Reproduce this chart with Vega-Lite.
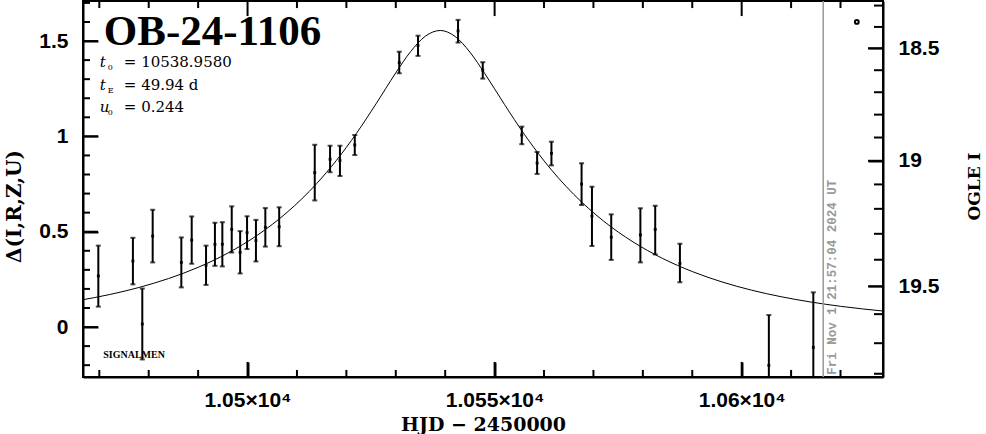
{
  "$schema": "https://vega.github.io/schema/vega-lite/v6.json",
  "width": 800,
  "height": 376,
  "autosize": {"type": "none"},
  "padding": {"left": 83, "top": 1, "right": 103, "bottom": 57},
  "background": "white",
  "config": {
    "view": {"stroke": "black", "strokeWidth": 2},
    "axis": {"gridOpacity": 0, "domainColor": "black", "domainWidth": 2}
  },
  "datasets": {
    "xt": [
      {"v": 10470, "kind": "minor"}, {"v": 10480, "kind": "minor"}, {"v": 10490, "kind": "minor"}, {"v": 10500, "kind": "major"},
      {"v": 10510, "kind": "minor"}, {"v": 10520, "kind": "minor"}, {"v": 10530, "kind": "minor"}, {"v": 10540, "kind": "minor"},
      {"v": 10550, "kind": "major"}, {"v": 10560, "kind": "minor"}, {"v": 10570, "kind": "minor"}, {"v": 10580, "kind": "minor"},
      {"v": 10590, "kind": "minor"}, {"v": 10600, "kind": "major"}, {"v": 10610, "kind": "minor"}, {"v": 10620, "kind": "minor"}
    ],
    "yt": [
      {"v": -0.2, "kind": "minor"}, {"v": -0.1, "kind": "minor"}, {"v": 0, "kind": "major"}, {"v": 0.1, "kind": "minor"},
      {"v": 0.2, "kind": "minor"}, {"v": 0.3, "kind": "minor"}, {"v": 0.4, "kind": "minor"}, {"v": 0.5, "kind": "major"},
      {"v": 0.6, "kind": "minor"}, {"v": 0.7, "kind": "minor"}, {"v": 0.8, "kind": "minor"}, {"v": 0.9, "kind": "minor"},
      {"v": 1.0, "kind": "major"}, {"v": 1.1, "kind": "minor"}, {"v": 1.2, "kind": "minor"}, {"v": 1.3, "kind": "minor"},
      {"v": 1.4, "kind": "minor"}, {"v": 1.5, "kind": "major"}, {"v": 1.6, "kind": "minor"}, {"v": 1.7, "kind": "minor"}
    ],
    "ot": [
      {"v": 1.686, "kind": "minor"}, {"v": 1.574, "kind": "minor"}, {"v": 1.462, "kind": "major"}, {"v": 1.347, "kind": "minor"},
      {"v": 1.2315, "kind": "minor"}, {"v": 1.114, "kind": "minor"}, {"v": 0.994, "kind": "minor"}, {"v": 0.872, "kind": "major"},
      {"v": 0.748, "kind": "minor"}, {"v": 0.620, "kind": "minor"}, {"v": 0.489, "kind": "minor"}, {"v": 0.353, "kind": "minor"},
      {"v": 0.2135, "kind": "major"}, {"v": 0.0677, "kind": "minor"}, {"v": -0.0848, "kind": "minor"}, {"v": -0.245, "kind": "minor"}
    ]
  },
  "resolve": {"axis": {"x": "independent", "y": "independent"}},
  "layer": [
    {
      "data": {"values": [
        {"t": 10466, "d": 0.1401}, {"t": 10472, "d": 0.1700}, {"t": 10478, "d": 0.2074}, {"t": 10484, "d": 0.2542},
        {"t": 10490, "d": 0.3132}, {"t": 10496, "d": 0.3877}, {"t": 10502, "d": 0.4820}, {"t": 10508, "d": 0.6015},
        {"t": 10514, "d": 0.7527}, {"t": 10518, "d": 0.8745}, {"t": 10522, "d": 1.0145}, {"t": 10526, "d": 1.1706},
        {"t": 10530, "d": 1.3333}, {"t": 10533, "d": 1.4446}, {"t": 10536, "d": 1.5257}, {"t": 10539, "d": 1.5554},
        {"t": 10542, "d": 1.5240}, {"t": 10545, "d": 1.4418}, {"t": 10548, "d": 1.3300}, {"t": 10552, "d": 1.1673},
        {"t": 10556, "d": 1.0113}, {"t": 10560, "d": 0.8718}, {"t": 10566, "d": 0.6962}, {"t": 10572, "d": 0.5568},
        {"t": 10578, "d": 0.4467}, {"t": 10584, "d": 0.3598}, {"t": 10590, "d": 0.2911}, {"t": 10596, "d": 0.2367},
        {"t": 10602, "d": 0.1934}, {"t": 10608, "d": 0.1589}, {"t": 10614, "d": 0.1312}, {"t": 10620, "d": 0.1088},
        {"t": 10629, "d": 0.0830}
      ]},
      "mark": {"type": "line", "color": "black", "strokeWidth": 1, "interpolate": "monotone", "clip": true},
      "encoding": {
        "x": {"field": "t", "type": "quantitative",
              "scale": {"domain": [10466.7, 10628.6], "nice": false, "zero": false},
              "axis": {"orient": "bottom", "values": [10500, 10550, 10600],
                       "tickSize": -15, "tickColor": "black", "tickWidth": 2, "labelPadding": 27,
                       "labelFont": "Liberation Sans", "labelFontWeight": "bold", "labelFontSize": 21, "labelColor": "black", "labelFlush": false,
                       "labelExpr": "datum.value == 10500 ? '1.05×10⁴' : datum.value == 10550 ? '1.055×10⁴' : '1.06×10⁴'",
                       "title": "HJD − 2450000", "titleFont": "DejaVu Serif", "titleFontWeight": "bold", "titleFontSize": 19, "titleColor": "black",
                       "titleX": 400, "titleY": 47, "titleBaseline": "middle", "titleAlign": "center"}},
        "y": {"field": "d", "type": "quantitative",
              "scale": {"domain": [-0.262, 1.71], "nice": false, "zero": false},
              "axis": {"orient": "left", "values": [0, 0.5, 1, 1.5],
                       "tickSize": -15, "tickColor": "black", "tickWidth": 2, "labelPadding": 30, "format": "~g",
                       "labelFont": "Liberation Sans", "labelFontWeight": "bold", "labelFontSize": 21, "labelColor": "black", "labelFlush": false,
                       "title": "Δ(I,R,Z,U)", "titleFont": "DejaVu Serif", "titleFontWeight": "bold", "titleFontSize": 20, "titleColor": "black",
                       "titleAngle": 270, "titleX": -69, "titleY": 205, "titleBaseline": "middle", "titleAlign": "center"}}
      }
    },
    {
      "data": {"name": "pts", "values": [
        {"t": 10469.8, "d": 0.268, "lo": 0.107, "hi": 0.427},
        {"t": 10476.8, "d": 0.346, "lo": 0.224, "hi": 0.468},
        {"t": 10478.7, "d": 0.016, "lo": -0.170, "hi": 0.202},
        {"t": 10480.8, "d": 0.477, "lo": 0.339, "hi": 0.615},
        {"t": 10486.6, "d": 0.339, "lo": 0.208, "hi": 0.470},
        {"t": 10488.7, "d": 0.456, "lo": 0.332, "hi": 0.580},
        {"t": 10491.6, "d": 0.324, "lo": 0.221, "hi": 0.427},
        {"t": 10493.4, "d": 0.434, "lo": 0.321, "hi": 0.547},
        {"t": 10494.9, "d": 0.434, "lo": 0.318, "hi": 0.550},
        {"t": 10496.8, "d": 0.512, "lo": 0.391, "hi": 0.633},
        {"t": 10498.5, "d": 0.392, "lo": 0.281, "hi": 0.503},
        {"t": 10499.9, "d": 0.495, "lo": 0.409, "hi": 0.581},
        {"t": 10501.7, "d": 0.453, "lo": 0.344, "hi": 0.562},
        {"t": 10503.6, "d": 0.523, "lo": 0.422, "hi": 0.624},
        {"t": 10506.4, "d": 0.526, "lo": 0.424, "hi": 0.628},
        {"t": 10513.6, "d": 0.810, "lo": 0.664, "hi": 0.956},
        {"t": 10516.7, "d": 0.880, "lo": 0.812, "hi": 0.951},
        {"t": 10518.7, "d": 0.873, "lo": 0.792, "hi": 0.951},
        {"t": 10521.7, "d": 0.955, "lo": 0.902, "hi": 1.007},
        {"t": 10530.7, "d": 1.387, "lo": 1.331, "hi": 1.444},
        {"t": 10534.5, "d": 1.476, "lo": 1.422, "hi": 1.528},
        {"t": 10542.6, "d": 1.553, "lo": 1.492, "hi": 1.611},
        {"t": 10547.6, "d": 1.347, "lo": 1.303, "hi": 1.389},
        {"t": 10555.5, "d": 1.007, "lo": 0.959, "hi": 1.051},
        {"t": 10558.6, "d": 0.860, "lo": 0.803, "hi": 0.918},
        {"t": 10561.5, "d": 0.911, "lo": 0.848, "hi": 0.972},
        {"t": 10567.6, "d": 0.750, "lo": 0.640, "hi": 0.859},
        {"t": 10569.7, "d": 0.582, "lo": 0.425, "hi": 0.736},
        {"t": 10573.6, "d": 0.471, "lo": 0.352, "hi": 0.591},
        {"t": 10579.5, "d": 0.483, "lo": 0.339, "hi": 0.623},
        {"t": 10582.5, "d": 0.512, "lo": 0.381, "hi": 0.636},
        {"t": 10587.5, "d": 0.334, "lo": 0.235, "hi": 0.437},
        {"t": 10605.5, "d": -0.201, "lo": -0.465, "hi": 0.063},
        {"t": 10614.5, "d": -0.107, "lo": -0.396, "hi": 0.182}
      ]},
      "mark": {"type": "rule", "color": "black", "strokeWidth": 2, "clip": true},
      "encoding": {
        "x": {"field": "t", "type": "quantitative", "axis": null},
        "y": {"field": "lo", "type": "quantitative", "axis": null},
        "y2": {"field": "hi"}
      }
    },
    {
      "data": {"name": "pts"},
      "mark": {"type": "tick", "orient": "horizontal", "color": "black", "size": 5, "thickness": 2, "clip": true},
      "encoding": {
        "x": {"field": "t", "type": "quantitative", "axis": null},
        "y": {"field": "lo", "type": "quantitative",
              "axis": {"orient": "right", "values": [1.462, 0.872, 0.2135],
                       "tickSize": -15, "tickColor": "black", "tickWidth": 2, "labelPadding": 30,
                       "labelFont": "Liberation Sans", "labelFontWeight": "bold", "labelFontSize": 21, "labelColor": "black", "labelFlush": false,
                       "labelExpr": "datum.value > 1.4 ? '18.5' : datum.value > 0.8 ? '19' : '19.5'",
                       "title": "OGLE I", "titleFont": "DejaVu Serif", "titleFontWeight": "bold", "titleFontSize": 17, "titleColor": "black",
                       "titleAngle": 270, "titleX": 91, "titleY": 185, "titleBaseline": "middle", "titleAlign": "center"}}
      }
    },
    {
      "data": {"name": "pts"},
      "mark": {"type": "tick", "orient": "horizontal", "color": "black", "size": 5, "thickness": 2, "clip": true},
      "encoding": {
        "x": {"field": "t", "type": "quantitative", "axis": null},
        "y": {"field": "hi", "type": "quantitative", "axis": null}
      }
    },
    {
      "data": {"name": "pts"},
      "mark": {"type": "point", "shape": "square", "filled": true, "color": "black", "size": 8, "opacity": 1, "clip": true},
      "encoding": {
        "x": {"field": "t", "type": "quantitative", "axis": null},
        "y": {"field": "d", "type": "quantitative", "axis": null}
      }
    },
    {
      "data": {"name": "xt"},
      "transform": [{"filter": "datum.kind == 'major'"}],
      "mark": {"type": "rule", "color": "black", "strokeWidth": 2},
      "encoding": {
        "x": {"field": "v", "type": "quantitative", "axis": null},
        "y": {"datum": -0.262, "type": "quantitative", "axis": null},
        "y2": {"datum": -0.183}
      }
    },
    {
      "data": {"name": "xt"},
      "transform": [{"filter": "datum.kind == 'minor'"}],
      "mark": {"type": "rule", "color": "black", "strokeWidth": 2},
      "encoding": {
        "x": {"field": "v", "type": "quantitative", "axis": null},
        "y": {"datum": -0.262, "type": "quantitative", "axis": null},
        "y2": {"datum": -0.225}
      }
    },
    {
      "data": {"name": "xt"},
      "transform": [{"filter": "datum.kind == 'major'"}],
      "mark": {"type": "rule", "color": "black", "strokeWidth": 2},
      "encoding": {
        "x": {"field": "v", "type": "quantitative", "axis": null},
        "y": {"datum": 1.71, "type": "quantitative", "axis": null},
        "y2": {"datum": 1.631}
      }
    },
    {
      "data": {"name": "xt"},
      "transform": [{"filter": "datum.kind == 'minor'"}],
      "mark": {"type": "rule", "color": "black", "strokeWidth": 2},
      "encoding": {
        "x": {"field": "v", "type": "quantitative", "axis": null},
        "y": {"datum": 1.71, "type": "quantitative", "axis": null},
        "y2": {"datum": 1.673}
      }
    },
    {
      "data": {"name": "yt"},
      "transform": [{"filter": "datum.kind == 'major'"}],
      "mark": {"type": "rule", "color": "black", "strokeWidth": 2},
      "encoding": {
        "y": {"field": "v", "type": "quantitative", "axis": null},
        "x": {"datum": 10466.7, "type": "quantitative", "axis": null},
        "x2": {"datum": 10469.74}
      }
    },
    {
      "data": {"name": "yt"},
      "transform": [{"filter": "datum.kind == 'minor'"}],
      "mark": {"type": "rule", "color": "black", "strokeWidth": 2},
      "encoding": {
        "y": {"field": "v", "type": "quantitative", "axis": null},
        "x": {"datum": 10466.7, "type": "quantitative", "axis": null},
        "x2": {"datum": 10468.12}
      }
    },
    {
      "data": {"name": "ot"},
      "transform": [{"filter": "datum.kind == 'major'"}],
      "mark": {"type": "rule", "color": "black", "strokeWidth": 2},
      "encoding": {
        "y": {"field": "v", "type": "quantitative", "axis": null},
        "x": {"datum": 10628.6, "type": "quantitative", "axis": null},
        "x2": {"datum": 10625.56}
      }
    },
    {
      "data": {"name": "ot"},
      "transform": [{"filter": "datum.kind == 'minor'"}],
      "mark": {"type": "rule", "color": "black", "strokeWidth": 2},
      "encoding": {
        "y": {"field": "v", "type": "quantitative", "axis": null},
        "x": {"datum": 10628.6, "type": "quantitative", "axis": null},
        "x2": {"datum": 10626.78}
      }
    },
    {
      "data": {"values": [{"t": 10616.5}]},
      "mark": {"type": "rule", "color": "#999999", "strokeWidth": 1.5},
      "encoding": {"x": {"field": "t", "type": "quantitative", "axis": null}}
    },
    {
      "data": {"values": [{"t": 10616.5, "d": -0.25, "label": "Fri Nov  1 21:57:04 2024 UT"}]},
      "mark": {"type": "text", "angle": 270, "align": "left", "baseline": "top", "dy": 3, "font": "Liberation Mono", "fontWeight": "bold", "fontSize": 12.5, "color": "#999999"},
      "encoding": {
        "x": {"field": "t", "type": "quantitative", "axis": null},
        "y": {"field": "d", "type": "quantitative", "axis": null},
        "text": {"field": "label"}
      }
    },
    {
      "data": {"values": [{"t": 10623.3, "d": 1.600}]},
      "mark": {"type": "point", "shape": "circle", "filled": false, "color": "black", "strokeWidth": 2, "size": 14, "opacity": 1},
      "encoding": {
        "x": {"field": "t", "type": "quantitative", "axis": null},
        "y": {"field": "d", "type": "quantitative", "axis": null}
      }
    },
    {
      "data": {"values": [{"t": 10470.9, "d": 1.48, "label": "OB-24-1106"}]},
      "mark": {"type": "text", "align": "left", "baseline": "alphabetic", "font": "Liberation Serif", "fontWeight": "bold", "fontSize": 43, "color": "black"},
      "encoding": {
        "x": {"field": "t", "type": "quantitative", "axis": null},
        "y": {"field": "d", "type": "quantitative", "axis": null},
        "text": {"field": "label"}
      }
    },
    {
      "data": {"name": "params", "values": [
        {"t": 10470.1, "d": 1.366, "main": "t", "sub": "0", "rest": "=  10538.9580"},
        {"t": 10470.1, "d": 1.243, "main": "t", "sub": "E", "rest": "=  49.94  d"},
        {"t": 10470.1, "d": 1.130, "main": "u", "sub": "0", "rest": "=  0.244"}
      ]},
      "mark": {"type": "text", "align": "left", "baseline": "alphabetic", "font": "DejaVu Serif", "fontStyle": "italic", "fontSize": 15, "color": "black"},
      "encoding": {
        "x": {"field": "t", "type": "quantitative", "axis": null},
        "y": {"field": "d", "type": "quantitative", "axis": null},
        "text": {"field": "main"}
      }
    },
    {
      "data": {"name": "params"},
      "mark": {"type": "text", "align": "left", "baseline": "alphabetic", "dx": 8, "dy": 3, "font": "DejaVu Serif", "fontSize": 8, "color": "black"},
      "encoding": {
        "x": {"field": "t", "type": "quantitative", "axis": null},
        "y": {"field": "d", "type": "quantitative", "axis": null},
        "text": {"field": "sub"}
      }
    },
    {
      "data": {"name": "params"},
      "mark": {"type": "text", "align": "left", "baseline": "alphabetic", "dx": 24, "font": "DejaVu Serif", "fontSize": 15, "color": "black"},
      "encoding": {
        "x": {"field": "t", "type": "quantitative", "axis": null},
        "y": {"field": "d", "type": "quantitative", "axis": null},
        "text": {"field": "rest"}
      }
    },
    {
      "data": {"values": [{"t": 10470.8, "d": -0.163, "label": "SIGNALMEN"}]},
      "mark": {"type": "text", "align": "left", "baseline": "alphabetic", "font": "Liberation Serif", "fontWeight": "bold", "fontSize": 10, "color": "black"},
      "encoding": {
        "x": {"field": "t", "type": "quantitative", "axis": null},
        "y": {"field": "d", "type": "quantitative", "axis": null},
        "text": {"field": "label"}
      }
    }
  ]
}
